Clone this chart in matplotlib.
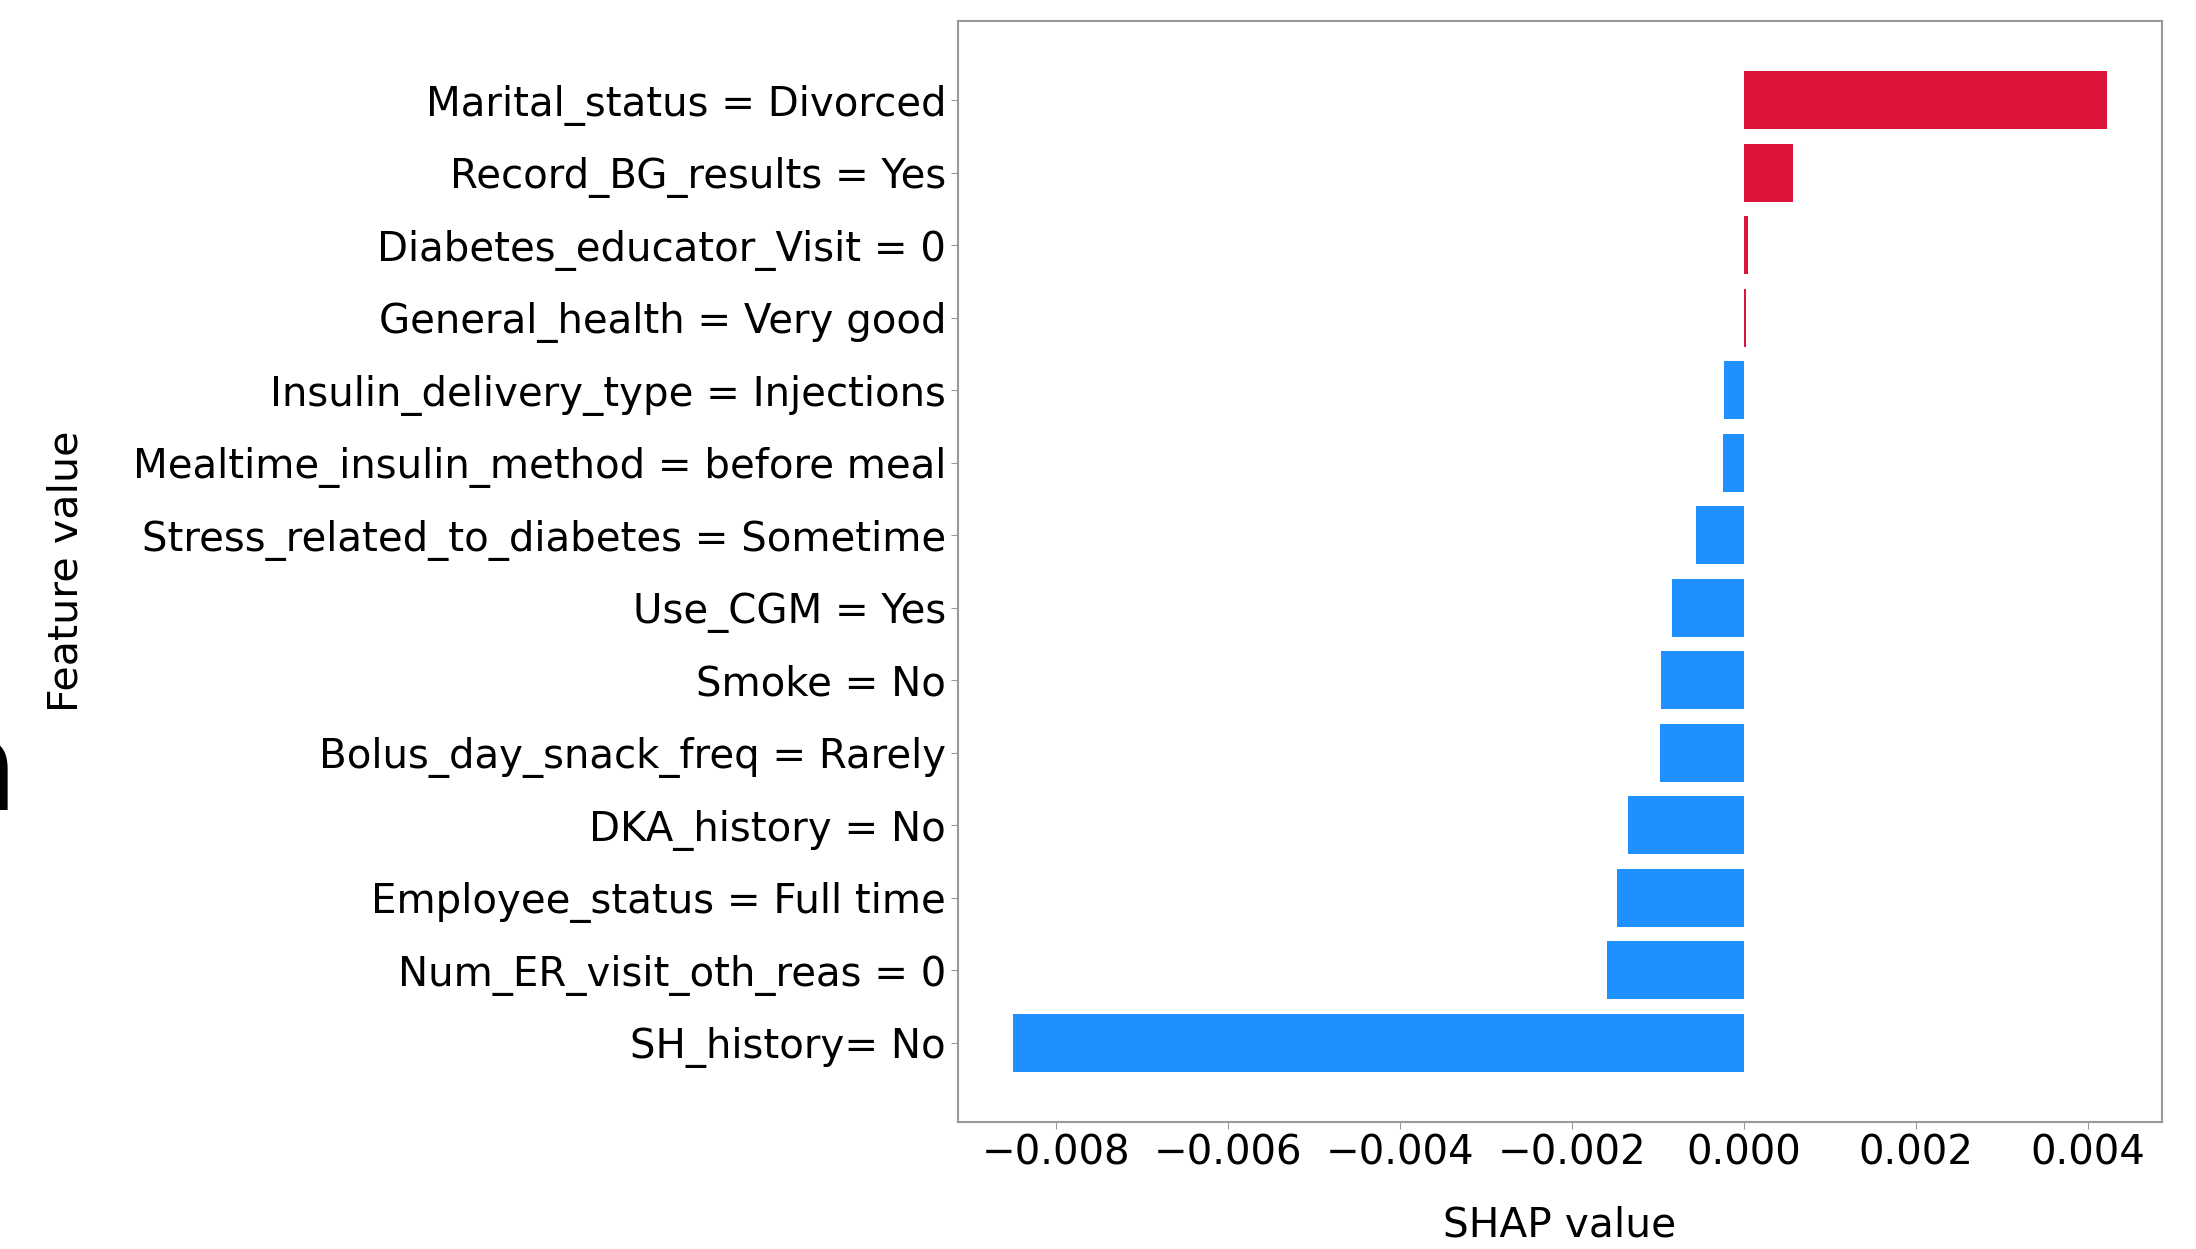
import numpy as np
import matplotlib
matplotlib.use("Agg")
import matplotlib.pyplot as plt

# SHAP contribution per feature value, top to bottom as listed
features = [
    "Marital_status = Divorced",
    "Record_BG_results = Yes",
    "Diabetes_educator_Visit = 0",
    "General_health = Very good",
    "Insulin_delivery_type = Injections",
    "Mealtime_insulin_method = before meal",
    "Stress_related_to_diabetes = Sometime",
    "Use_CGM = Yes",
    "Smoke = No",
    "Bolus_day_snack_freq = Rarely",
    "DKA_history = No",
    "Employee_status = Full time",
    "Num_ER_visit_oth_reas = 0",
    "SH_history= No",
]
shap_vals = [0.00422, 0.00057, 0.00004, 0.00002, -0.00023, -0.00025, -0.00056,
             -0.00084, -0.00097, -0.00098, -0.00135, -0.00148, -0.00159, -0.0085]

plt.rcParams['font.family'] = ['DejaVu Sans']
plt.rcParams['font.size'] = 29

fig = plt.figure(figsize=(21.96, 12.49), dpi=100)
ax = fig.add_axes([0.4362, 0.1017, 0.5483, 0.8815])

vals = np.array(shap_vals)
ypos = np.arange(len(features))[::-1]
colors = np.where(vals > 0, "crimson", "dodgerblue")
ax.barh(ypos, vals, height=0.8, color=colors)

ax.set_yticks(ypos)
ax.set_yticklabels(features, fontsize=29)
ax.set_xticks([-0.008, -0.006, -0.004, -0.002, 0.0, 0.002, 0.004])

for s in ax.spines.values():
    s.set_color("#999999")
    s.set_linewidth(1.5)
ax.tick_params(axis="both", colors="#999999", labelcolor="black", length=5)
ax.tick_params(axis="x", labelsize=29)

ax.set_xlabel("SHAP value", fontsize=29.3)
ax.set_ylabel("Feature value", fontsize=29.6)
ax.xaxis.set_label_coords(0.5, -0.076)
ax.yaxis.set_label_coords(-0.724, 0.5)

# edge of the neighbouring panel letter
fig.text(18 / 2196, 1 - 810 / 1249, "n", fontsize=90, ha="right", va="baseline")

fig.savefig("out.png", dpi=100)
